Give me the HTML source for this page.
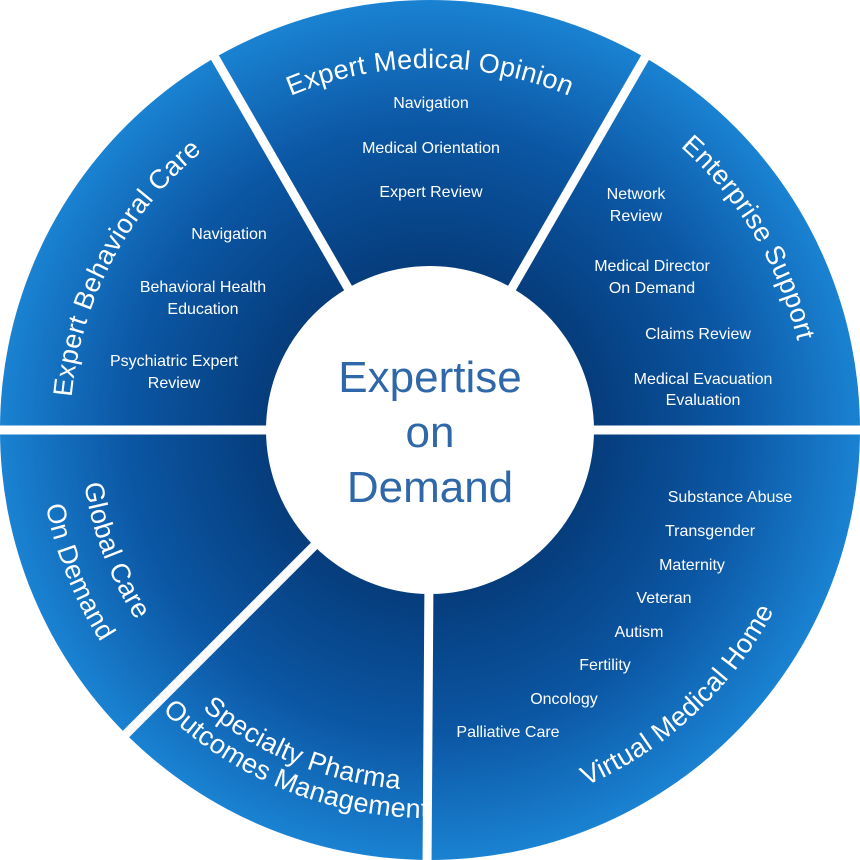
<!DOCTYPE html>
<html><head><meta charset="utf-8"><style>
html,body{margin:0;padding:0;background:#fff;}
svg{display:block}
.t{font-family:"Liberation Sans",sans-serif;fill:#fff;font-size:16px;text-anchor:middle;}
.h{font-family:"Liberation Sans",sans-serif;fill:#fff;font-size:27px;letter-spacing:0.3px;}
.c{font-family:"Liberation Sans",sans-serif;fill:#2f68a8;font-size:44px;text-anchor:middle;font-weight:300;}
</style></head><body>
<svg width="860" height="860" viewBox="0 0 860 860" xmlns="http://www.w3.org/2000/svg">
<defs>
<radialGradient id="g" cx="430" cy="430" r="430" gradientUnits="userSpaceOnUse">
<stop offset="0.35" stop-color="#053a78"/>
<stop offset="0.7" stop-color="#0b56a3"/>
<stop offset="1" stop-color="#1a82d2"/>
</radialGradient>
<path id="p1" d="M68,430 A362,362 0 0 1 792,430"/>
<path id="p2" d="M235,106 A378,378 0 0 1 625,754"/>
<path id="p3" d="M261,748 A360,360 0 0 1 599,112"/>
<path id="p4" d="M146,695 A388,388 0 0 0 714,165"/>
<path id="p5" d="M96,295 A360,360 0 0 0 764,565"/>
<path id="p6" d="M70,285 A388,388 0 0 0 790,575"/>
<path id="p7" d="M305,103 A350,350 0 0 0 555,757"/>
<path id="p8" d="M281,61 A398,398 0 0 0 579,799"/>
</defs>
<circle cx="430" cy="430" r="430" fill="url(#g)"/>
<g stroke="#fff" stroke-width="9">
<line x1="430" y1="430" x2="210" y2="49"/>
<line x1="430" y1="430" x2="650" y2="49"/>
<line x1="430" y1="430" x2="119" y2="741"/>
<line x1="430" y1="430" x2="427" y2="870"/>
<line x1="430" y1="430" x2="-10" y2="430"/>
<line x1="430" y1="430" x2="870" y2="430"/>
</g>
<circle cx="430" cy="430" r="164" fill="#fff"/>
<text class="c" x="430" y="392">Expertise</text>
<text class="c" x="430" y="447">on</text>
<text class="c" x="430" y="502">Demand</text>

<text class="h"><textPath href="#p1" startOffset="50%" text-anchor="middle">Expert Medical Opinion</textPath></text>
<text class="h"><textPath href="#p2" startOffset="50%" text-anchor="middle">Enterprise Support</textPath></text>
<text class="h"><textPath href="#p3" startOffset="50%" text-anchor="middle">Expert Behavioral Care</textPath></text>
<text class="h"><textPath href="#p4" startOffset="50%" text-anchor="middle">Virtual Medical Home</textPath></text>
<text class="h"><textPath href="#p5" startOffset="50%" text-anchor="middle">Specialty Pharma</textPath></text>
<text class="h"><textPath href="#p6" startOffset="50%" text-anchor="middle">Outcomes Management</textPath></text>
<text class="h"><textPath href="#p7" startOffset="50%" text-anchor="middle">Global Care</textPath></text>
<text class="h"><textPath href="#p8" startOffset="50%" text-anchor="middle">On Demand</textPath></text>

<g class="t">
<text x="431" y="108">Navigation</text>
<text x="431" y="153">Medical Orientation</text>
<text x="431" y="197">Expert Review</text>

<text x="229" y="239">Navigation</text>
<text x="203" y="292">Behavioral Health</text>
<text x="203" y="314">Education</text>
<text x="174" y="366">Psychiatric Expert</text>
<text x="174" y="388">Review</text>

<text x="636" y="199">Network</text>
<text x="636" y="221">Review</text>
<text x="652" y="271">Medical Director</text>
<text x="652" y="293">On Demand</text>
<text x="698" y="339">Claims Review</text>
<text x="703" y="384">Medical Evacuation</text>
<text x="703" y="405">Evaluation</text>

<text x="730" y="502">Substance Abuse</text>
<text x="710" y="536">Transgender</text>
<text x="692" y="570">Maternity</text>
<text x="664" y="603">Veteran</text>
<text x="639" y="637">Autism</text>
<text x="605" y="670">Fertility</text>
<text x="564" y="704">Oncology</text>
<text x="508" y="737">Palliative Care</text>
</g>
</svg>
</body></html>
